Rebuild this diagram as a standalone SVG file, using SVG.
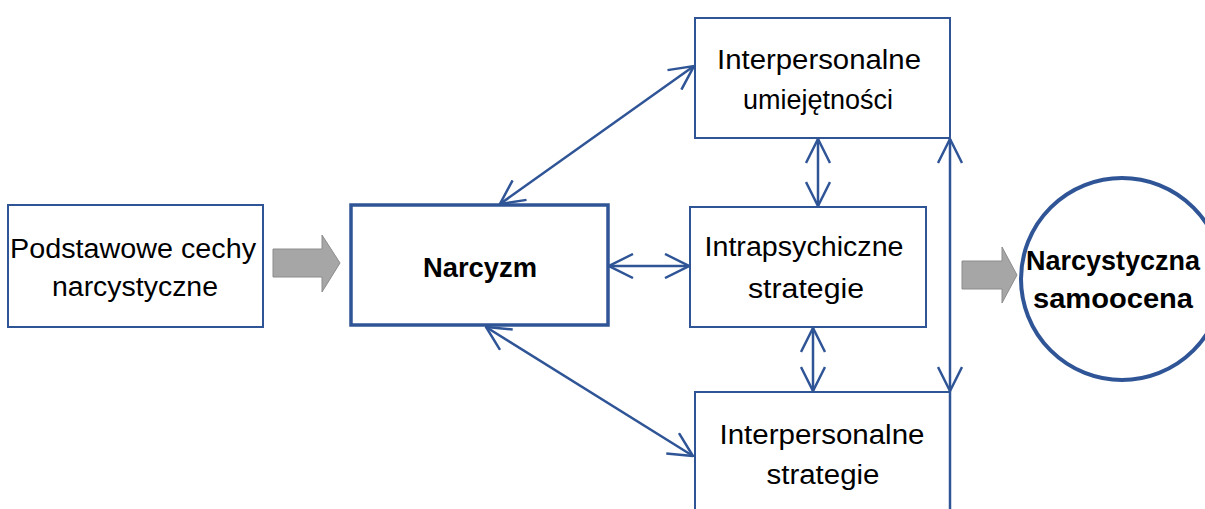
<svg xmlns="http://www.w3.org/2000/svg" width="1205" height="509" viewBox="0 0 1205 509">
<style>
.box{fill:#fff;stroke:#2f5597;stroke-width:2}
.bold{stroke-width:3.5}
.t{font-family:"Liberation Sans",Arial,sans-serif;font-size:27px;fill:#000;text-anchor:middle}
.b{font-weight:bold}
.con{stroke:#2f5597;stroke-width:2.5;fill:none;marker-start:url(#ah);marker-end:url(#ah)}
.gray{fill:#a6a6a6;stroke:#8c8c8c;stroke-width:1}
</style>
<defs>
<marker id="ah" viewBox="0 0 26 26" refX="25" refY="13" markerWidth="26" markerHeight="26" markerUnits="userSpaceOnUse" orient="auto-start-reverse">
<path d="M1,1 L25,13 L1,25" fill="none" stroke="#2f5597" stroke-width="2.5"/>
</marker>
</defs>
<rect width="1205" height="509" fill="#fff"/>
<g id="podstawowe">
<rect class="box" x="8" y="205" width="255" height="122"/>
<text class="t" x="133" y="258" textLength="246" lengthAdjust="spacingAndGlyphs">Podstawowe cechy</text>
<text class="t" x="135" y="296" textLength="166" lengthAdjust="spacingAndGlyphs">narcystyczne</text>
</g>
<g id="arrow1">
<path class="gray" d="M273,249 H322 V235 L340,263 L322,292 V277 H273 Z"/>
</g>
<g id="narcyzm">
<rect class="box bold" x="351" y="205" width="257" height="120"/>
<text class="t b" x="480" y="277" textLength="114" lengthAdjust="spacingAndGlyphs">Narcyzm</text>
</g>
<g id="umiejetnosci">
<rect class="box" x="695" y="18" width="255" height="120"/>
<text class="t" x="819" y="69" textLength="204" lengthAdjust="spacingAndGlyphs">Interpersonalne</text>
<text class="t" x="818" y="109">umiejętności</text>
</g>
<g id="intrapsychiczne">
<rect class="box" x="690" y="207" width="236" height="120"/>
<text class="t" x="804" y="256" textLength="199" lengthAdjust="spacingAndGlyphs">Intrapsychiczne</text>
<text class="t" x="806" y="298" textLength="116" lengthAdjust="spacingAndGlyphs">strategie</text>
</g>
<g id="strategie">
<rect class="box" x="695" y="392" width="255" height="130"/>
<text class="t" x="822" y="444" textLength="205" lengthAdjust="spacingAndGlyphs">Interpersonalne</text>
<text class="t" x="823" y="484" textLength="113" lengthAdjust="spacingAndGlyphs">strategie</text>
</g>
<g id="arrow2">
<path class="gray" d="M962,261 H1002 V247 L1017,275 L1002,303 V289 H962 Z"/>
</g>
<g id="samoocena">
<circle cx="1122" cy="279" r="101" fill="#fff" stroke="#2f5597" stroke-width="4"/>
<text class="t b" x="1113" y="270" textLength="174" lengthAdjust="spacingAndGlyphs">Narcystyczna</text>
<text class="t b" x="1113" y="308" textLength="160" lengthAdjust="spacingAndGlyphs">samoocena</text>
</g>
<g id="connectors">
<line class="con" x1="500" y1="204" x2="694" y2="66"/>
<line class="con" x1="486" y1="327" x2="693" y2="456"/>
<line class="con" x1="609" y1="266" x2="689" y2="266"/>
<line class="con" x1="818" y1="139" x2="818" y2="206"/>
<line class="con" x1="813" y1="328" x2="813" y2="391"/>
<line class="con" x1="950" y1="139" x2="950" y2="391"/>
<line x1="950" y1="391" x2="950" y2="509" stroke="#2f5597" stroke-width="2.5"/>
</g>
</svg>
